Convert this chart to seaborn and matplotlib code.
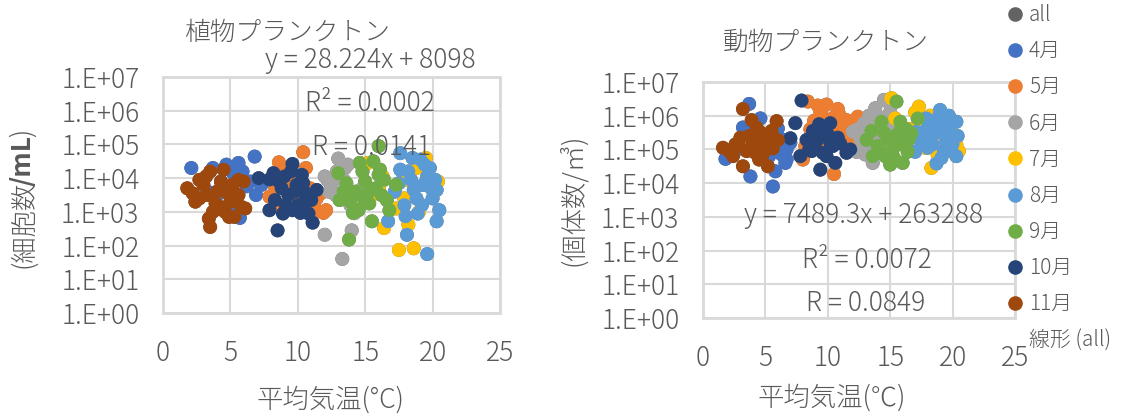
import numpy as np
import pandas as pd
import matplotlib
matplotlib.use("Agg")
import matplotlib.pyplot as plt
from matplotlib.lines import Line2D
from matplotlib.ticker import FuncFormatter, NullLocator
import seaborn as sns

# ---- data -------------------------------------------------------------
months = ["4月", "5月", "6月", "7月", "8月", "9月", "10月", "11月"]
month_colors = ["#4472C4", "#ED7D31", "#A5A5A5", "#FFC000",
                "#5B9BD5", "#70AD47", "#264478", "#9E480E"]
all_color = "#636363"

# Phytoplankton: mean air temperature (°C) and cells per mL
phyto_temp = {
    "4月": [2.1, 3.7, 4.7, 5.6, 6.8, 5.2, 6.9, 5.7, 5.0, 6.2, 4.3, 3.9, 5.9, 7.3, 4.9, 6.5, 3.3, 5.4],
    "5月": [10.4, 8.6, 9.0, 10.0, 11.9, 11.4, 7.9, 8.8, 10.9, 11.2, 9.4, 10.6, 8.3, 9.8, 11.7, 12.1,
           9.5, 10.2, 11.0],
    "6月": [13.0, 12.0, 12.0, 14.0, 13.3, 14.2, 12.5, 13.5, 14.6, 12.8, 13.9, 14.8, 13.4, 12.3, 15.2,
           12.9, 12.2, 13.7],
    "7月": [15.2, 16.3, 17.5, 18.6, 16.4, 17.3, 18.2, 20.4, 15.3, 18.1, 19.5, 17.9, 19.0, 16.0, 18.8],
    "8月": [17.6, 19.1, 17.6, 18.5, 19.8, 20.3, 20.3, 16.7, 18.1, 19.6, 20.5, 18.0, 18.8, 17.2, 19.3,
           18.4, 17.9, 19.6, 18.9, 20.0, 17.5, 19.2, 18.6, 19.9, 19.4, 18.2, 20.2],
    "9月": [16.0, 13.0, 14.6, 16.1, 17.3, 13.8, 15.5, 14.1, 13.1, 16.6, 15.0, 14.3, 15.8, 13.6, 16.4,
           15.3, 14.8, 13.9, 16.8, 15.6, 14.5, 14.0, 15.2, 16.2, 14.9, 16.0, 13.4],
    "10月": [7.1, 7.9, 8.2, 9.6, 10.3, 11.4, 8.5, 7.9, 11.1, 10.2, 9.3, 8.8, 9.9, 10.5, 8.3, 9.6,
            10.8, 9.0, 9.8, 10.0, 8.6, 9.1, 10.6, 9.5, 8.9, 10.4, 11.0],
    "11月": [1.8, 2.7, 3.5, 4.5, 5.2, 6.0, 6.1, 5.3, 3.5, 3.4, 3.9, 2.7, 3.0, 4.0, 4.6, 5.6, 3.2,
            4.3, 5.0, 2.2, 3.7, 4.8, 5.6, 4.2, 3.3, 4.9, 5.8, 2.4],
}
phyto_cells = {
    "4月": [20000, 20000, 25100, 28200, 43600, 14100, 3160, 661, 741, 5750, 7940, 2510, 15800,
           6310, 1580, 7940, 3980, 1000],
    "5月": [58900, 29500, 15800, 7940, 933, 2510, 2820, 1410, 5010, 1580, 10000, 20000, 5620,
           2000, 3550, 1120, 3980, 2820, 794],
    "6月": [38000, 11200, 209, 282, 40, 912, 6310, 20000, 28200, 3160, 1580, 5010, 8910, 3980, 2000,
           15800, 8910, 25100],
    "7月": [28200, 11200, 74, 83, 331, 1260, 417, 7940, 2240, 8910, 39800, 2510, 1000, 5010, 20000],
    "8月": [55000, 35500, 17800, 39800, 20000, 4470, 525, 525, 209, 56, 1120, 741, 2510, 3980,
           6310, 8910, 1580, 11200, 891, 2510, 7080, 1580, 4470, 5010, 25100, 15800, 8910],
    "9月": [89100, 14100, 28200, 17800, 6310, 151, 525, 933, 2240, 2240, 7940, 3980, 5010, 7080,
           8910, 1780, 15800, 2000, 1120, 31600, 1120, 3160, 3550, 3160, 2510, 12600, 3980],
    "10月": [10000, 9120, 14100, 26300, 12600, 4470, 282, 1120, 479, 933, 3160, 5010, 6310, 2000,
            2240, 1120, 891, 11200, 3980, 1580, 7940, 1580, 3550, 15800, 891, 7080, 2240],
    "11月": [5010, 8910, 15800, 17800, 6610, 7940, 1260, 708, 355, 631, 1780, 2510, 6310, 3980,
            1000, 3160, 11200, 7940, 2000, 3550, 1000, 3550, 8910, 1410, 3160, 708, 1410, 2000],
}

# Zooplankton: mean air temperature (°C) and individuals per m³
zoo_temp = {
    "4月": [3.7, 3.2, 1.8, 3.8, 5.6, 6.6, 6.7, 6.0, 4.6, 5.8, 6.7, 4.2, 7.0, 2.5, 5.0, 3.9, 6.3,
           5.3, 6.3],
    "5月": [8.4, 9.9, 11.5, 12.4, 10.5, 8.0, 9.4, 10.9, 11.2, 8.9, 10.3, 11.8, 9.0, 12.0, 8.2, 10.8,
           9.6, 9.2, 10.5, 11.0, 9.8, 12.2, 8.6],
    "6月": [14.5, 13.8, 12.0, 12.3, 13.6, 12.9, 15.0, 13.2, 14.2, 12.6, 13.0, 14.6, 13.5, 15.3, 14.9,
           12.4, 13.3, 14.0, 13.8, 12.8, 14.5],
    "7月": [15.1, 17.3, 18.3, 20.3, 15.4, 17.0, 20.0, 17.6, 19.5, 16.6, 18.8, 20.5, 17.8, 18.2, 17.5],
    "8月": [19.0, 20.3, 17.1, 17.0, 18.7, 20.3, 17.9, 19.5, 18.3, 19.8, 18.0, 20.0, 18.6, 19.3,
           17.5, 18.9, 19.7, 20.4, 18.0, 19.0, 19.6, 18.4, 17.4, 19.9, 19.1],
    "9月": [15.5, 17.2, 13.1, 14.3, 15.8, 16.4, 15.0, 16.0, 13.6, 15.5, 16.7, 14.0, 14.8, 15.2,
           16.2, 13.5, 14.6, 15.9, 14.5, 15.6, 16.3, 14.2, 15.3, 16.5],
    "10月": [7.9, 7.4, 7.0, 9.4, 10.2, 9.9, 11.5, 11.0, 8.3, 7.8, 9.0, 10.0, 9.5, 10.6, 8.7, 9.2,
            10.4, 11.8, 8.8, 8.5, 9.6, 10.8, 9.3, 10.2],
    "11月": [3.2, 1.6, 3.9, 5.9, 5.2, 3.2, 2.4, 5.6, 4.6, 6.0, 4.0, 3.5, 4.8, 2.9, 4.3, 5.3, 3.7,
            4.5, 2.1, 3.0, 3.9, 4.7, 5.5, 2.6, 4.2],
}
zoo_count = {
    "4月": [2240000, 447000, 52500, 15800, 7940, 39800, 100000, 417000, 832000, 22400, 50100,
           562000, 158000, 79400, 251000, 316000, 200000, 63100, 70800],
    "5月": [2630000, 2140000, 741000, 933000, 18600, 50100, 1320000, 1120000, 631000, 708000,
           398000, 251000, 251000, 158000, 126000, 1580000, 891000, 2000000, 891000, 316000,
           158000, 447000, 398000],
    "6月": [2950000, 1660000, 339000, 85100, 39800, 603000, 1320000, 126000, 891000, 200000,
           70800, 398000, 282000, 631000, 2400000, 398000, 1000000, 501000, 200000, 112000, 126000],
    "7月": [3310000, 1860000, 28200, 135000, 832000, 1260000, 316000, 501000, 200000, 398000,
           70800, 89100, 112000, 1000000, 224000],
    "8月": [1480000, 661000, 339000, 85100, 38000, 63100, 832000, 170000, 251000, 355000, 112000,
           141000, 562000, 89100, 158000, 955000, 1000000, 251000, 447000, 316000, 562000, 141000,
           282000, 89100, 56200],
    "9月": [2630000, 832000, 191000, 661000, 661000, 85100, 35500, 39800, 63100, 269000, 302000,
           126000, 200000, 100000, 158000, 355000, 63100, 447000, 316000, 141000, 398000, 89100,
           56200, 200000],
    "10月": [2820000, 603000, 214000, 25100, 603000, 63100, 79400, 151000, 191000, 63100, 112000,
            282000, 398000, 39800, 89100, 200000, 126000, 100000, 355000, 100000, 79400, 224000,
            562000, 158000],
    "11月": [1580000, 112000, 741000, 692000, 31600, 31600, 63100, 107000, 316000, 191000, 158000,
            89100, 70800, 126000, 447000, 200000, 251000, 50100, 89100, 224000, 112000, 158000,
            355000, 141000, 79400],
}

phyto_title = "植物プランクトン"
zoo_title = "動物プランクトン"
phyto_stats = ["y = 28.224x + 8098", "R² = 0.0002", "R = 0.0141"]
zoo_stats = ["y = 7489.3x + 263288", "R² = 0.0072", "R = 0.0849"]
phyto_ylabel_parts = ["(細胞数", "/mL", ")"]
zoo_ylabel = "(個体数/㎥)"
phyto_xlabel = "平均気温(°C)"
zoo_xlabel = "平均気温(℃)"
legend_labels = ["all"] + months + ["線形 (all)"]
x_ticks = [0, 5, 10, 15, 20, 25]
y_exponents = list(range(0, 8))


def to_frame(temps, values):
    rows = []
    for m in months:
        for t, v in zip(temps[m], values[m]):
            rows.append((t, v, m))
    return pd.DataFrame(rows, columns=["temp", "value", "month"])


phyto_df = to_frame(phyto_temp, phyto_cells)
zoo_df = to_frame(zoo_temp, zoo_count)

# ---- style ------------------------------------------------------------
sns.set_theme(style="white")
plt.rcParams["font.family"] = ["Noto Sans CJK JP", "DejaVu Sans"]
plt.rcParams["font.weight"] = "light"
TXT = "#595959"
GRID = "#D9D9D9"
MS = 100

fig = plt.figure(figsize=(11.22, 4.19), dpi=100)
W, H = 1122, 419


def px_axes(x0, y0, x1, y1):
    return fig.add_axes([x0 / W, 1 - y1 / H, (x1 - x0) / W, (y1 - y0) / H])


ax_p = px_axes(163, 77, 500, 313)
ax_z = px_axes(703, 82, 1015, 318)

exp_fmt = FuncFormatter(lambda v, _: f"1.E+{int(round(np.log10(v))):02d}")

for ax, df in ((ax_p, phyto_df), (ax_z, zoo_df)):
    ax.set_axisbelow(True)
    # "all" series first, then each month on top of it
    sns.scatterplot(data=df, x="temp", y="value", color=all_color, s=MS,
                    linewidth=0, edgecolor="none", ax=ax, legend=False, zorder=2)
    sns.scatterplot(data=df, x="temp", y="value", hue="month", hue_order=months,
                    palette=month_colors, s=MS, linewidth=0, edgecolor="none", alpha=1,
                    ax=ax, legend=False, zorder=3)

    ax.set_yscale("log")
    ax.set_ylim(1, 1e7)
    ax.set_xlim(0, 25)
    ax.set_yticks([10.0 ** e for e in y_exponents])
    ax.yaxis.set_major_formatter(exp_fmt)
    ax.yaxis.set_minor_locator(NullLocator())
    ax.set_xticks(x_ticks)
    ax.set_xlabel("")
    ax.set_ylabel("")
    ax.grid(True, color=GRID, lw=1.5)
    for sp in ax.spines.values():
        sp.set_visible(True)
        sp.set_color(GRID)
        sp.set_linewidth(2)
    ax.tick_params(axis="both", length=0, labelsize=19, labelcolor=TXT)
    ax.tick_params(axis="y", pad=17)
    ax.tick_params(axis="x", pad=19)
    ax.set_facecolor("white")


def ftext(x, y, s, size=19, rotation=0, ha="center", va="center", **kw):
    return fig.text(x / W, 1 - y / H, s, ha=ha, va=va, fontsize=size,
                    color=TXT, rotation=rotation, **kw)


ftext(287, 33, phyto_title, size=18.5)
ftext(370, 60, phyto_stats[0])
ftext(370, 103, phyto_stats[1])
ftext(371, 147, phyto_stats[2])
ftext(330, 400, phyto_xlabel)

# vertical y label of the left panel, with the unit part in bold
renderer = fig.canvas.get_renderer()
ftext(23, 181, phyto_ylabel_parts[0], rotation=90, va="top")
unit = ftext(23, 186, phyto_ylabel_parts[1], rotation=90, va="bottom", fontweight="bold")
unit_top = H - unit.get_window_extent(renderer).y1
ftext(23, unit_top + 2, phyto_ylabel_parts[2], rotation=90, va="bottom")

ftext(826, 43, zoo_title, size=18.5)
ftext(864, 215, zoo_stats[0])
ftext(867, 260, zoo_stats[1])
ftext(866, 303, zoo_stats[2])
ftext(832, 398, zoo_xlabel)
ftext(573, 200, zoo_ylabel, rotation=90)

handles = [Line2D([], [], ls="none", marker="o", markersize=9.5, color=all_color)]
handles += [Line2D([], [], ls="none", marker="o", markersize=9.5, color=c) for c in month_colors]
# linear trendline entry of the "all" series
handles += [Line2D([], [], ls="none", marker=None, color=all_color)]
leg = fig.legend(handles, legend_labels, loc="upper left",
                 bbox_to_anchor=(1005 / W, 1 - 4 / H), frameon=False, fontsize=15,
                 handlelength=1.0, handletextpad=0.15, labelspacing=0.68,
                 borderpad=0, borderaxespad=0)
for t in leg.get_texts():
    t.set_color(TXT)

fig.savefig("out.png", dpi=100, facecolor="white")
